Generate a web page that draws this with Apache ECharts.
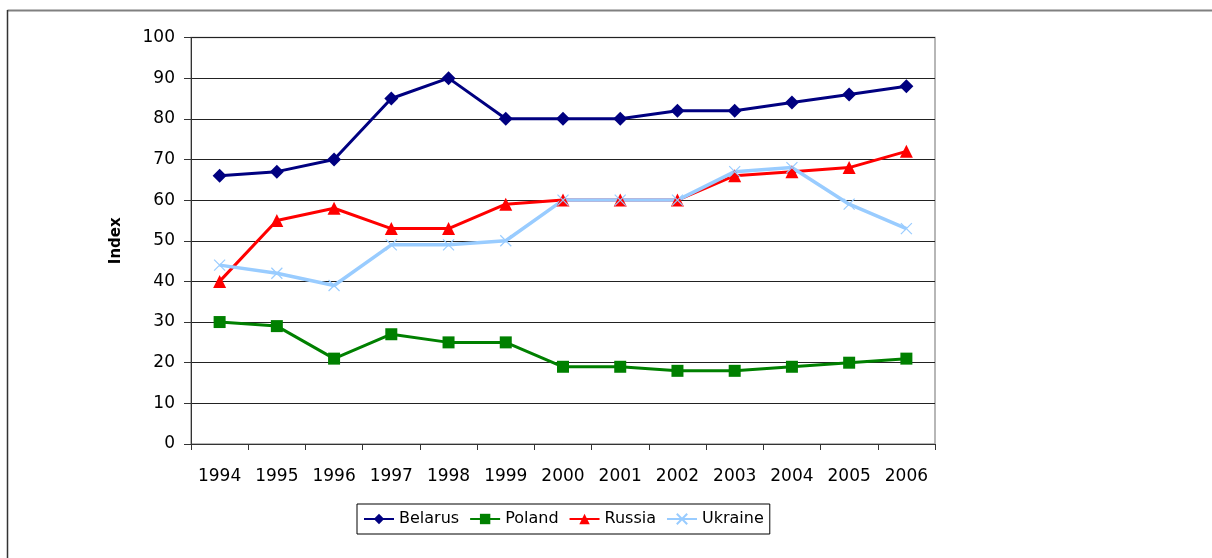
<!DOCTYPE html>
<html>
<head>
<meta charset="utf-8">
<script src="https://cdn.jsdelivr.net/npm/echarts@6/dist/echarts.min.js"></script>
<style>html,body{margin:0;padding:0;background:#fff;}#c{width:1212px;height:558px;}</style>
</head>
<body>
<div id="c"></div>
<script>
const years = ['1994','1995','1996','1997','1998','1999','2000','2001','2002','2003','2004','2005','2006'];
const belarus = [66,67,70,85,90,80,80,80,82,82,84,86,88];
const poland  = [30,29,21,27,25,25,19,19,18,18,19,20,21];
const russia  = [40,55,58,53,53,59,60,60,60,66,67,68,72];
const ukraine = [44,42,39,49,49,50,60,60,60,67,68,59,53];

const FONT = 'DejaVu Sans';
const chart = echarts.init(document.getElementById('c'));
const xPath = 'path://M0,0L10,10M10,0L0,10';
chart.setOption({
  animation: false,
  backgroundColor: '#fff',
  textStyle: {fontFamily: FONT},
  graphic: [
    {type:'line', shape:{x1:7.5,y1:10.5,x2:1212,y2:10.5}, style:{stroke:'#808080',lineWidth:2}, silent:true},
    {type:'line', shape:{x1:7.5,y1:10,x2:7.5,y2:558}, style:{stroke:'#333',lineWidth:1.5}, silent:true}
  ],
  grid: {left:191, top:37.5, right:277, bottom:114, show:true, borderColor:'#a0a0a0', borderWidth:1.5, containLabel:false},
  legend: {
    left: 357, top: 504,
    padding: [7,6,7,6],
    itemGap: 10,
    itemWidth: 30, itemHeight: 13,
    borderColor: '#000', borderWidth: 1,
    textStyle: {fontFamily: FONT, fontSize: 16, color:'#000'},
    data: ['Belarus','Poland','Russia','Ukraine']
  },
  xAxis: {
    type: 'category',
    data: years,
    boundaryGap: true,
    axisLine: {lineStyle:{color:'#333', width:1}},
    axisTick: {show:true, length:6, lineStyle:{color:'#333'}},
    axisLabel: {fontFamily: FONT, fontSize: 17, color:'#000', margin: 24, interval: 0},
    splitLine: {show:false}
  },
  yAxis: {
    type: 'value',
    min: 0, max: 100, interval: 10,
    name: 'Index',
    nameLocation: 'middle',
    nameGap: 67,
    nameTextStyle: {fontFamily: FONT, fontSize: 15, fontWeight:'bold', color:'#000'},
    axisLine: {show:true, lineStyle:{color:'#333', width:1}},
    axisTick: {show:true, length:7, lineStyle:{color:'#333'}},
    axisLabel: {fontFamily: FONT, fontSize: 17, color:'#000', margin: 16},
    splitLine: {show:true, lineStyle:{color:'#222', width:1}}
  },
  series: [
    {name:'Belarus', type:'line', data: belarus, symbol:'diamond', symbolSize:14,
     lineStyle:{color:'#000080', width:3}, itemStyle:{color:'#000080'}},
    {name:'Poland', type:'line', data: poland, symbol:'rect', symbolSize:12,
     lineStyle:{color:'#008000', width:3}, itemStyle:{color:'#008000'}},
    {name:'Russia', type:'line', data: russia, symbol:'triangle', symbolSize:13,
     lineStyle:{color:'#FF0000', width:3}, itemStyle:{color:'#FF0000'}},
    {name:'Ukraine', type:'line', data: ukraine, symbol: xPath, symbolSize:11,
     lineStyle:{color:'#99CCFF', width:3.5}, itemStyle:{color:'#99CCFF', borderColor:'#99CCFF', borderWidth:1.2}}
  ]
});
</script>
</body>
</html>
